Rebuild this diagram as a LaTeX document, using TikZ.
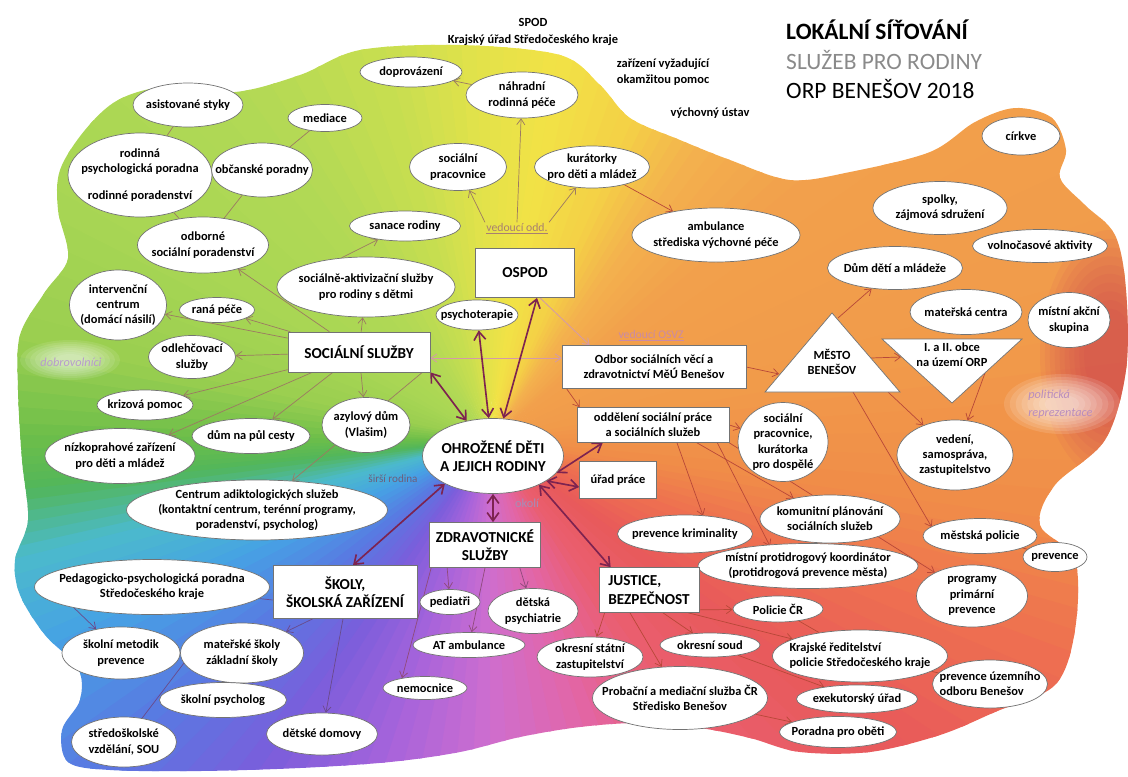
\documentclass[tikz,border=0pt]{standalone}
\usepackage{fontspec}
\setmainfont{Carlito}
\usetikzlibrary{shapes.geometric,arrows.meta,calc}
\pgfdeclarelayer{blob}
\pgfdeclarelayer{lines}
\pgfsetlayers{blob,lines,main}
\definecolor{s1}{HTML}{6CBE4A}\definecolor{s2}{HTML}{9ACE50}\definecolor{s3}{HTML}{A8D654}
\definecolor{s4}{HTML}{B2D955}\definecolor{s5}{HTML}{C8DE50}\definecolor{s6}{HTML}{E2E24A}
\definecolor{s7}{HTML}{F2E246}\definecolor{s8}{HTML}{F4D046}\definecolor{s9}{HTML}{F3B14E}
\definecolor{s10}{HTML}{F2A14C}\definecolor{s11}{HTML}{F19A4A}\definecolor{s12}{HTML}{F08C48}
\definecolor{s13}{HTML}{EE7050}\definecolor{s14}{HTML}{E85A5A}\definecolor{s15}{HTML}{EA5E70}
\definecolor{s16}{HTML}{E266A8}\definecolor{s17}{HTML}{CE6ECF}\definecolor{s18}{HTML}{A663DB}
\definecolor{s19}{HTML}{7A5EDB}\definecolor{s20}{HTML}{5A78E2}\definecolor{s21}{HTML}{46A2E4}
\definecolor{s22}{HTML}{4CBACC}\definecolor{s23}{HTML}{52B65A}\definecolor{s24}{HTML}{6CBE4A}
\definecolor{crim}{HTML}{C8305A}
\definecolor{brG}{HTML}{9C7A62}
\definecolor{brO}{HTML}{B84838}
\definecolor{brP}{HTML}{8F4A7A}
\definecolor{brB}{HTML}{6A4A8A}
\definecolor{maroon}{HTML}{7D2350}
\definecolor{pinkL}{HTML}{D49AA8}
\definecolor{titgray}{HTML}{8A8A8A}
\definecolor{lilac}{HTML}{B89CCC}
\definecolor{vodcol}{HTML}{A88070}
\definecolor{osvzcol}{HTML}{C88AA8}
\newcommand{\efnt}{\bfseries\fontsize{10.6}{13}\selectfont}
\newcommand{\bfnt}{\bfseries\fontsize{13}{15.5}\selectfont}
\begin{document}
\begin{tikzpicture}[x=0.03cm,y=-0.03cm,
  >={Straight Barb[length=5pt,width=7pt]},
  el/.style n args={2}{ellipse, draw=black!55, fill=white, line width=0.6pt,
     minimum width={#1*0.03cm}, minimum height={#2*0.03cm}, inner sep=0pt},
  lb/.style={align=center, font=\efnt, inner sep=0pt, text=black},
  bx/.style n args={2}{rectangle, draw=black!55, fill=white, line width=0.6pt,
     minimum width={#1*0.03cm}, minimum height={#2*0.03cm}, inner sep=1pt, align=center, font=\bfnt},
  tri/.style={draw=black!55, fill=white, line width=0.6pt},
  arG/.style={draw=brG, line width=0.6pt, ->},
  arO/.style={draw=brO, line width=0.6pt, ->},
  arP/.style={draw=brP, line width=0.6pt, ->},
  arB/.style={draw=brB, line width=0.6pt, ->},
  lnG/.style={draw=brG, line width=0.6pt},
  lnO/.style={draw=brO, line width=0.6pt},
  lnB/.style={draw=brB, line width=0.6pt},
  pk/.style={draw=pinkL, line width=0.7pt},
  tarr/.style={draw=maroon, line width=1.4pt,
     {Straight Barb[length=7pt,width=10pt]}-{Straight Barb[length=7pt,width=10pt]}},
  plain/.style={align=center, font=\efnt, inner sep=1pt}
]
\useasboundingbox (0,0) rectangle (1128,776);

% ---------- coloured background ----------
\begin{pgfonlayer}{blob}
\begin{scope}
\clip plot[smooth cycle, tension=0.55] coordinates {
 (360,50) (460,45) (560,55) (600,85) (630,118) (680,140) (730,160) (790,180)
 (850,172) (930,152) (975,122) (1015,108) (1052,118) (1066,150) (1060,178)
 (1085,205) (1115,235) (1126,290) (1126,370) (1105,440) (1055,485) (1040,525)
 (1075,560) (1075,630) (1055,685) (995,712) (940,735) (870,752) (800,752)
 (750,738) (700,728) (640,723) (580,727) (520,737) (460,752) (390,762)
 (300,768) (200,771) (110,770) (68,762) (62,730) (80,700) (78,668) (45,635)
 (20,595) (15,560) (28,520) (22,460) (18,390) (20,335) (45,292) (68,258)
 (58,210) (60,170) (85,130) (118,100) (165,87) (235,92) (300,75)};
\foreach \a/\b/\ca/\cb in {-180/-168/s1/s2, -168/-150/s2/s3, -150/-125/s3/s4,
   -125/-105/s4/s5, -105/-92/s5/s6, -92/-80/s6/s7, -80/-66/s7/s8, -66/-55/s8/s9,
   -55/-40/s9/s10, -40/-10/s10/s11, -10/8/s11/s12, 8/20/s12/s13, 20/36/s13/s14,
   36/55/s14/s15, 55/72/s15/s16, 72/90/s16/s17, 90/108/s17/s18, 108/125/s18/s19,
   125/140/s19/s20, 140/155/s20/s21, 155/166/s21/s22, 166/174/s22/s23, 174/180/s23/s24}{
  \foreach \k in {0,1,2,3,4,5}{
    \pgfmathsetmacro\tA{\a+(\b-\a)*\k/6}
    \pgfmathsetmacro\tB{\a+(\b-\a)*(\k+1)/6+0.6}
    \pgfmathtruncatemacro\pp{100*(\k+0.5)/6}
    \fill[fill={\cb!\pp!\ca}] (490,440) -- +(\tA:1100) -- +(\tB:1100) -- cycle;
  }
}
\foreach \s in {1.0,0.93,0.86,0.79,0.72,0.65,0.58,0.51,0.44,0.37}{
  \fill[crim, opacity=0.07] (1110,355) ellipse [x radius=\s*70, y radius=\s*125];}
\foreach \s in {1.0,0.9,0.8,0.7,0.6,0.5,0.4,0.3}{
  \fill[white, opacity=0.12] (1062,404) ellipse [x radius=\s*58, y radius=\s*30];
  \fill[white, opacity=0.1] (70,360) ellipse [x radius=\s*50, y radius=\s*20];}
\end{scope}
\end{pgfonlayer}

% ---------- title and free texts ----------
\node[anchor=west, inner sep=0pt, font=\bfseries\fontsize{20}{24}\selectfont] (t1) at (786,30) {LOKÁLNÍ SÍŤOVÁNÍ};
\node[anchor=west, inner sep=0pt, text=titgray, font=\fontsize{20}{24}\selectfont] (t2) at (786,60) {SLUŽEB PRO RODINY};
\node[anchor=west, inner sep=0pt, font=\fontsize{20}{24}\selectfont] (t3) at (786,89) {ORP BENEŠOV 2018};
\node[plain] (spod) at (533,22) {SPOD};
\node[plain] (kuk) at (533,40) {Krajský úřad Středočeského kraje};
\node[plain] (zvp) at (663,72) {zařízení vyžadující\\okamžitou pomoc};
\node[plain] (vu) at (710,113) {výchovný ústav};
\node[inner sep=1pt, text=vodcol, font=\fontsize{10}{12}\selectfont] (vodd) at (517,229) {\underline{vedoucí odd.}};
\node[inner sep=1pt, text=osvzcol, font=\fontsize{10}{12}\selectfont] (vosvz) at (651,336) {\underline{vedoucí OSVZ}};
\node[inner sep=1pt, text=lilac, font=\itshape\fontsize{10.5}{12}\selectfont] (dobro) at (71,362) {dobrovolníci};
\node[anchor=west, align=left, inner sep=0pt, text=lilac!90!purple, font=\itshape\fontsize{10.5}{15.5}\selectfont] (polit) at (1028,404) {politická\\reprezentace};
\node[inner sep=1pt, text=black!40!lilac, font=\fontsize{9.5}{11}\selectfont] (sirsi) at (393,479) {širší rodina};
\node[inner sep=1pt, text=lilac!90!black, font=\fontsize{10.5}{12}\selectfont] (okoli) at (527,503) {okolí};

% ---------- ellipses ----------
\node[el={110}{44}, label={[lb]center:{asistované styky}}] (asist) at (188,105) {};
\node[el={74}{27}, label={[lb]center:{mediace}}] (medi) at (325,118) {};
\node[el={144}{84}, label={[lb]center:{rodinná\\psychologická poradna\\[10pt]rodinné poradenství}}] (rodp) at (140,175) {};
\node[el={101}{54}, label={[lb]center:{občanské poradny}}] (obcp) at (262,170) {};
\node[el={131}{56}, label={[lb]center:{odborné\\sociální poradenství}}] (odbp) at (203,245) {};
\node[el={102}{30}, label={[lb]center:{doprovázení}}] (dopr) at (411,72) {};
\node[el={112}{46}, label={[lb]center:{náhradní\\rodinná péče}}] (nahr) at (522,95) {};
\node[el={97}{47}, label={[lb]center:{sociální\\pracovnice}}] (socp) at (458,167) {};
\node[el={115}{42}, label={[lb]center:{kurátorky\\pro děti a mládež}}] (kura) at (592,167) {};
\node[el={111}{30}, label={[lb]center:{sanace rodiny}}] (sana) at (405,226) {};
\node[el={178}{60}, label={[lb]center:{sociálně-aktivizační služby\\pro rodiny s dětmi}}] (sakt) at (366,287) {};
\node[el={168}{54}, label={[lb]center:{ambulance\\střediska výchovné péče}}] (ambu) at (716,235) {};
\node[el={78}{38}, label={[lb]center:{církve}}] (cirk) at (1021,136) {};
\node[el={134}{53}, label={[lb]center:{spolky,\\zájmová sdružení}}] (spol) at (940,208) {};
\node[el={135}{33}, label={[lb]center:{volnočasové aktivity}}] (voln) at (1040,246) {};
\node[el={135}{43}, label={[lb]center:{Dům dětí a mládeže}}] (ddm) at (895,268) {};
\node[el={112}{45}, label={[lb]center:{mateřská centra}}] (matc) at (966,312) {};
\node[el={82}{55}, label={[lb]center:{místní akční\\skupina}}] (mas) at (1069,320) {};
\node[el={90}{79}, label={[lb]center:{sociální\\pracovnice,\\kurátorka\\pro dospělé}}] (spk) at (783,442) {};
\node[el={116}{70}, label={[lb]center:{vedení,\\samospráva,\\zastupitelstvo}}] (ved) at (955,455) {};
\node[el={140}{48}, label={[lb]center:{komunitní plánování\\sociálních služeb}}] (kpss) at (830,519) {};
\node[el={135}{38}, label={[lb]center:{prevence kriminality}}] (prek) at (685,534) {};
\node[el={220}{45}, label={[lb]center:{místní protidrogový koordinátor\\(protidrogová prevence města)}}] (mpk) at (808,566) {};
\node[el={114}{35}, label={[lb]center:{městská policie}}] (mpol) at (980,536) {};
\node[el={64}{29}, label={[lb]center:{prevence}}] (prev) at (1055,557) {};
\node[el={111}{62}, label={[lb]center:{programy\\primární\\prevence}}] (ppp) at (972,596) {};
\node[el={90}{26}, label={[lb]center:{Policie ČR}}] (pcr) at (778,609) {};
\node[el={175}{52}, label={[lb,align=left]center:{Krajské ředitelství\\policie Středočeského kraje}}] (krp) at (860,656) {};
\node[el={115}{48}, label={[lb,align=left]center:{prevence územního\\odboru Benešov}}] (puo) at (990,684) {};
\node[el={121}{28}, label={[lb]center:{exekutorský úřad}}] (exek) at (857,699) {};
\node[el={117}{31}, label={[lb]center:{Poradna pro oběti}}] (pobe) at (838,732) {};
\node[el={175}{63}, label={[lb]center:{Probační a mediační služba ČR\\Středisko Benešov}}] (pms) at (680,698) {};
\node[el={100}{24}, label={[lb]center:{okresní soud}}] (osoud) at (710,645) {};
\node[el={106}{40}, label={[lb]center:{okresní státní\\zastupitelství}}] (ozast) at (590,657) {};
\node[el={60}{25}, label={[lb]center:{pediatři}}] (pedi) at (450,602) {};
\node[el={90}{45}, label={[lb]center:{dětská\\psychiatrie}}] (dpsy) at (533,611) {};
\node[el={112}{25}, label={[lb]center:{AT ambulance}}] (atam) at (469,645) {};
\node[el={84}{23}, label={[lb]center:{nemocnice}}] (nemo) at (425,688) {};
\node[el={235}{55}, label={[lb]center:{Pedagogicko-psychologická poradna\\Středočeského kraje}}] (pppsk) at (152,587) {};
\node[el={118}{52}, label={[lb]center:{školní metodik\\prevence}}] (smp) at (121,653) {};
\node[el={123}{60}, label={[lb]center:{mateřské školy\\základní školy}}] (msz) at (242,653) {};
\node[el={127}{35}, label={[lb]center:{školní psycholog}}] (sps) at (223,700) {};
\node[el={105}{50}, label={[lb,align=left]center:{středoškolské\\vzdělání, SOU}}] (ssv) at (124,742) {};
\node[el={111}{42}, label={[lb]center:{dětské domovy}}] (ddom) at (322,734) {};
\node[el={261}{60}, label={[lb]center:{Centrum adiktologických služeb\\(kontaktní centrum, terénní programy,\\poradenství, psycholog)}}] (cas) at (257,510) {};
\node[el={150}{55}, label={[lb]center:{nízkoprahové zařízení\\pro děti a mládež}}] (nizk) at (120,456) {};
\node[el={118}{35}, label={[lb]center:{dům na půl cesty}}] (dpc) at (251,436) {};
\node[el={88}{55}, label={[lb]center:{azylový dům\\(Vlašim)}}] (azyl) at (366,425) {};
\node[el={96}{30}, label={[lb]center:{krizová pomoc}}] (kriz) at (145,405) {};
\node[el={87}{43}, label={[lb]center:{odlehčovací\\služby}}] (odle) at (192,357) {};
\node[el={75}{25}, label={[lb]center:{raná péče}}] (rana) at (217,310) {};
\node[el={97}{70}, label={[lb]center:{intervenční\\centrum\\(domácí násilí)}}] (intc) at (118,305) {};
\node[el={82}{30}, label={[lb]center:{psychoterapie}}] (psyt) at (477,315) {};
\node[el={141}{75}, label={[lb,font=\bfnt]center:{OHROŽENÉ DĚTI\\A JEJICH RODINY}}] (ohr) at (493,456) {};

% ---------- boxes ----------
\node[bx={142}{40}] (soc) at (359,352) {SOCIÁLNÍ SLUŽBY};
\node[bx={99}{49}] (ospod) at (525,273) {OSPOD};
\node[bx={184}{43}, font=\efnt] (odbor) at (654,367) {Odbor sociálních věcí a\\zdravotnictví MěÚ Benešov};
\node[bx={152}{35}, font=\efnt] (odd) at (653,425) {oddělení sociální práce\\a sociálních služeb};
\node[bx={77}{37}, font=\efnt] (urad) at (618,480) {úřad práce};
\node[bx={111}{45}] (zdr) at (485,545) {ZDRAVOTNICKÉ\\SLUŽBY};
\node[bx={144}{53}] (skoly) at (345,592) {ŠKOLY,\\ŠKOLSKÁ ZAŘÍZENÍ};
\node[bx={100}{45}, align=left] (just) at (649,590) {JUSTICE,\\BEZPEČNOST};

% ---------- triangles ----------
\coordinate (mA) at (832,313); \coordinate (mL) at (765,392); \coordinate (mR) at (900,392);
\draw[tri] (mA) -- (mL) -- (mR) -- cycle;
\node[lb] (mesto) at (832,362) {MĚSTO\\BENEŠOV};
\coordinate (oL) at (882,339); \coordinate (oR) at (1022,339); \coordinate (oB) at (952,403);
\draw[tri] (oL) -- (oR) -- (oB) -- cycle;
\node[lb] (obce) at (952,355) {I. a II. obce\\na území ORP};
\coordinate (mAp) at (838,318);
\coordinate (mRe) at (871,358);
\coordinate (oLe) at (901,357);
\coordinate (mB1) at (888,392);
\coordinate (mB2) at (853,392);
\coordinate (oRe) at (985,373);
\coordinate (mLe) at (779,374);

% ---------- connectors ----------
\begin{pgfonlayer}{lines}
% social services cluster
\draw[lnG] (asist) -- (rodp);
\draw[lnG] (medi) -- (obcp);
\draw[lnG] (obcp) -- (odbp);
\draw[lnG] (rodp) -- (odbp);
\draw[arG] (soc) -- (odbp);
\draw[arG] (soc) -- (intc);
\draw[arG] (soc) -- (rana);
\draw[arG] (soc) -- (odle);
\draw[arG] (soc) -- (kriz);
\draw[arG] (soc) -- (nizk);
\draw[arG] (soc) -- (dpc);
\draw[arG] (soc) -- (azyl);
\draw[arG] ($(soc.south east)+(-8,0)$) -- (cas);
\draw[arG] (soc) -- (sakt);
\draw[arG] (sakt.130) -- (sana);
% OSPOD cluster
\draw[arG] (vodd.north west) -- (socp);
\draw[arG] (vodd.north) -- (nahr);
\draw[arG] (vodd.north east) -- (kura);
\draw[arG] (nahr) -- (dopr);
\draw[arO] (kura) -- (ambu);
\draw[pk, ->] ($(ospod.south)+(15,0)$) -- ($(odbor.north west)+(28,0)$);
\draw[pk, <->] ($(soc.east)+(0,6)$) -- ($(odbor.west)+(0,-9)$);
% town / social department
\draw[arO] ($(odbor.south west)+(5,0)$) -- ($(odd.north west)+(3,0)$);
\draw[arO] (odbor.east) -- (mLe);
\draw[arO] (odd.east) -- (spk);
\draw[arO] ($(odd.south)+(24,0)$) -- ($(prek.north)+(18,1)$);
\draw[arO] ($(odd.south)+(44,0)$) -- (kpss);
\draw[arO] ($(odd.south east)+(-12,0)$) -- ($(mpk.north)+(-38,3)$);
\draw[arO] (odd.south east) -- (ppp);
\draw[arO] (mAp) -- (ddm);
\draw[arO] (mRe) -- (oLe);
\draw[arO] (mB1) -- (ved);
\draw[arO] (mB2) -- ($(mpol.west)+(9,-9)$);
\draw[arO] (oRe) -- (ved);
\draw[lnO] (mpol) -- (prev);
% justice
\draw[arO] ($(just.south east)+(0,-3)$) -- (pcr);
\draw[arO] ($(just.south west)+(6,0)$) -- (ozast);
\draw[arO] ($(just.south)+(-19,0)$) -- (pms);
\draw[arO] ($(just.south)+(14,0)$) -- (osoud);
\draw[arO] ($(just.south east)+(-11,0)$) -- (krp);
\draw[lnO] (pcr) -- (krp);
\draw[lnO] (krp) -- (puo);
\draw[arO] (osoud) -- (exek);
\draw[arO] (pms) -- (pobe);
% health
\draw[arP] ($(zdr.south west)+(18,0)$) -- (pedi);
\draw[arP] (zdr.south) -- (atam);
\draw[arP] ($(zdr.south east)+(-21,0)$) -- (dpsy);
\draw[arP] ($(zdr.south west)+(2,0)$) -- ($(nemo.north)+(-23,2)$);
% schools
\draw[lnB] ($(skoly.west)+(0,8)$) -- (pppsk);
\draw[arB] (pppsk.-165) -- (smp);
\draw[arB] ($(skoly.south west)+(40,0)$) -- (msz);
\draw[arB] ($(skoly.south)+(-2,0)$) -- (ddom);
\draw[lnB] (msz.-170) -- (ssv);
% main double arrows
\draw[tarr] (soc.south east) -- (ohr);
\draw[tarr] (psyt) -- (ohr);
\draw[tarr] ($(ospod.south)+(12,0)$) -- (ohr);
\draw[tarr] (ohr.-15) -- ($(odd.south west)+(26,0)$);
\draw[tarr] (ohr.-25) -- ($(urad.west)+(0,7)$);
\draw[tarr] (ohr.-32) -- ($(just.north west)+(12,0)$);
\draw[tarr] (ohr.south) -- ($(zdr.north)+(8,0)$);
\draw[tarr] (ohr.-150) -- ($(skoly.north)+(8,0)$);
\end{pgfonlayer}
\end{tikzpicture}
\end{document}
